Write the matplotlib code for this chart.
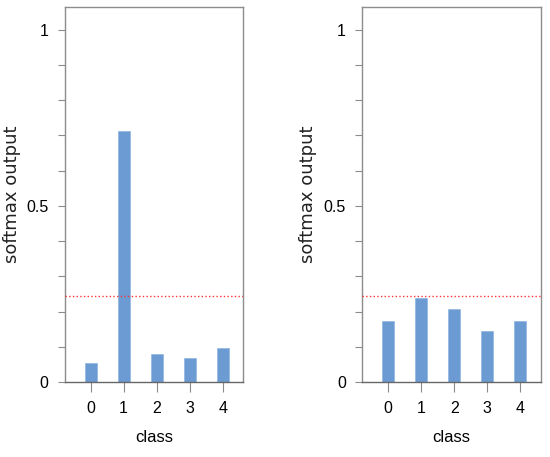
import matplotlib.pyplot as plt
from matplotlib import font_manager
import numpy as np

# valores
classes = [0, 1, 2, 3, 4]
softmax_esq = [0.055, 0.713, 0.081, 0.068, 0.096]
softmax_dir = [0.174, 0.239, 0.207, 0.145, 0.174]
limiar = 0.245

cor_barra = '#6b9bd2'
cinza = '#8c8c8c'

# fonte estreita se existir
try:
    font_manager.findfont('Liberation Sans Narrow', fallback_to_default=False)
    fonte_tick = ['Liberation Sans Narrow', 'DejaVu Sans']
    tam_tick = 13
except ValueError:
    fonte_tick = ['Liberation Sans', 'DejaVu Sans']
    tam_tick = 11.5

fig = plt.figure(figsize=(5.5, 4.57), dpi=100)
ax1 = fig.add_axes([0.118, 0.164, 0.324, 0.821])
ax2 = fig.add_axes([0.659, 0.164, 0.324, 0.821])

for ax, valores, xlab in [(ax1, softmax_esq, -0.245), (ax2, softmax_dir, -0.255)]:
    ax.bar(classes, valores, width=0.36, color=cor_barra, edgecolor='#8fb6e0', linewidth=0.5, zorder=2)
    ax.axhline(limiar, color='#ff3333', linestyle=':', linewidth=1.0, zorder=3)
    ax.set_xlim(-0.78, 4.62)
    ax.set_ylim(0, 1.065)
    ax.set_xticks(classes)
    ax.set_xticklabels([str(c) for c in classes])
    ax.set_yticks([0, 0.5, 1])
    ax.set_yticklabels(['0', '0.5', '1'])
    ax.set_yticks(np.arange(0, 1.01, 0.1), minor=True)
    ax.tick_params(axis='y', which='both', direction='out', length=5, color=cinza, width=0.8, pad=7)
    ax.tick_params(axis='x', direction='out', length=7, color=cinza, width=0.8, pad=7)
    for lbl in ax.get_xticklabels() + ax.get_yticklabels():
        lbl.set_family(fonte_tick)
        lbl.set_fontsize(tam_tick)
    for s in ax.spines.values():
        s.set_color(cinza)
        s.set_linewidth(1.0)
    ax.spines['bottom'].set_color('#666666')
    ax.set_ylabel('softmax output', family='DejaVu Sans', fontsize=13, color='#222222')
    ax.yaxis.set_label_coords(xlab, 0.5)
    ax.set_xlabel('class', family=fonte_tick, fontsize=tam_tick + 0.5, labelpad=10)

fig.savefig('out.png', dpi=100)
